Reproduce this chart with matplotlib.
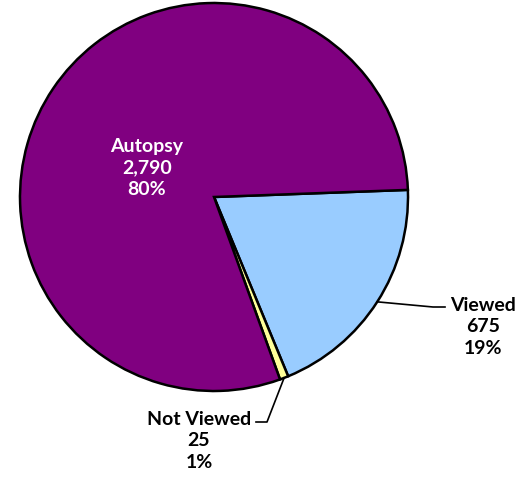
import numpy as np
import matplotlib
matplotlib.use('Agg')
import matplotlib.pyplot as plt

labels = ['Viewed', 'Not Viewed', 'Autopsy']
values = [675, 25, 2790]
colors = ['#99CCFF', '#FFFF99', '#800080']

W, H = 525, 478
fig = plt.figure(figsize=(W/100, H/100), dpi=100)
ax = fig.add_axes([0, 0, 1, 1])

cx, cy, r = 214, H-197, 194
start = 2.1
wedges, _ = ax.pie(values, colors=colors, startangle=start, counterclock=False,
                   center=(cx, cy), radius=r, frame=True,
                   wedgeprops=dict(edgecolor='black', linewidth=1.8))
ax.set_xlim(0, W)
ax.set_ylim(0, H)
ax.set_aspect('equal')
ax.axis('off')

total = sum(values)
pct = [round(100*v/total) for v in values]
txt = ['%s\n%s\n%d%%' % (l, format(v, ','), p) for l, v, p in zip(labels, values, pct)]
font = dict(family=['Lato', 'DejaVu Sans'], fontsize=14, fontweight='bold',
            linespacing=1.34, ha='center', va='center')

def edge(w):
    a = np.deg2rad((w.theta1 + w.theta2)/2)
    return cx + r*np.cos(a), cy + r*np.sin(a)

# Viewed
x0, y0 = edge(wedges[0])
ax.plot([x0, 433, 445], [y0, H-307, H-307], color='black', lw=1.2)
ax.text(483, H-327, txt[0], color='black', **font)
# Not Viewed
x0, y0 = edge(wedges[1])
ax.plot([x0, 267, 256], [y0, H-422, H-422], color='black', lw=1.2)
ax.text(199, H-441, txt[1], color='black', **font)
# Autopsy
ax.text(147, H-168, txt[2], color='white', **font)

fig.savefig('out.png', dpi=100)
